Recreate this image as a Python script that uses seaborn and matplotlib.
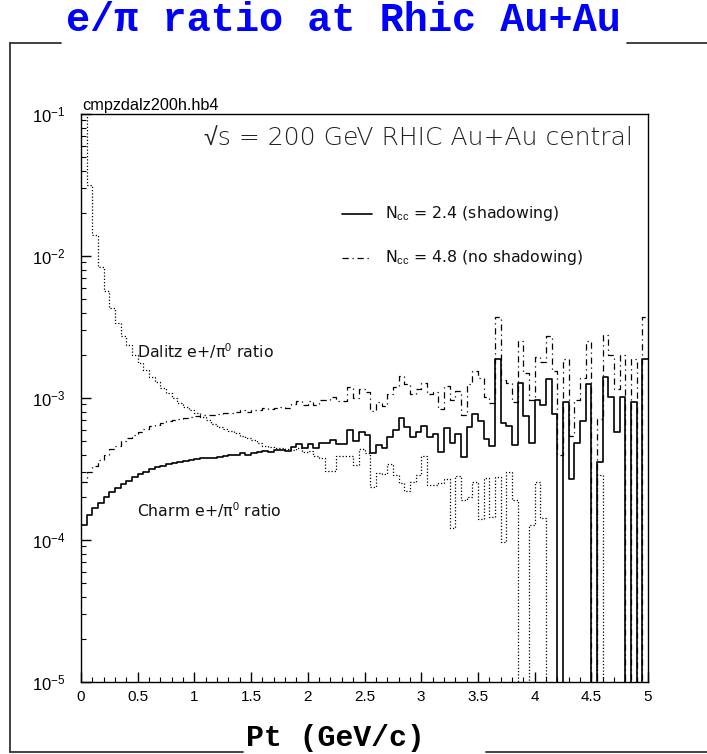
import numpy as np
import pandas as pd
import matplotlib
matplotlib.use("Agg")
import matplotlib.pyplot as plt
import seaborn as sns
from matplotlib.lines import Line2D
from matplotlib.ticker import MultipleLocator, LogLocator, NullFormatter, FuncFormatter


# ================== DATA ==================

# 100 bins of 0.05 GeV/c between 0 and 5
N_BINS = 100
PT_RANGE = (0.0, 5.0)

# Charm e+/pi0 ratio, Ncc = 2.4 (shadowing)
charm_shadowing = [
    1.28e-4, 1.50e-4, 1.67e-4, 1.83e-4, 2.00e-4, 2.17e-4, 2.31e-4, 2.47e-4, 2.62e-4, 2.76e-4,
    2.90e-4, 3.03e-4, 3.15e-4, 3.25e-4, 3.34e-4, 3.43e-4, 3.50e-4, 3.56e-4, 3.61e-4, 3.68e-4,
    3.72e-4, 3.78e-4, 3.78e-4, 3.81e-4, 3.84e-4, 3.91e-4, 3.94e-4, 3.97e-4, 4.10e-4, 3.97e-4,
    4.10e-4, 4.14e-4, 4.24e-4, 4.17e-4, 4.27e-4, 4.30e-4, 4.24e-4, 4.52e-4, 4.74e-4, 4.45e-4,
    4.74e-4, 4.45e-4, 4.82e-4, 4.82e-4, 5.06e-4, 4.74e-4, 4.73e-4, 5.95e-4, 4.98e-4, 5.73e-4,
    5.49e-4, 4.08e-4, 4.67e-4, 4.42e-4, 5.34e-4, 5.95e-4, 7.19e-4, 6.28e-4, 5.34e-4, 5.79e-4,
    6.38e-4, 5.34e-4, 5.55e-4, 4.15e-4, 6.12e-4, 4.84e-4, 5.58e-4, 3.82e-4, 6.28e-4, 7.68e-4,
    6.92e-4, 5.12e-4, 4.59e-4, 1.87e-3, 6.64e-4, 6.38e-4, 4.67e-4, 1.27e-3, 7.50e-4, 4.82e-4,
    9.68e-4, 8.93e-4, 1.36e-3, 7.68e-4, 0.0, 9.33e-4, 2.68e-4, 4.84e-4, 6.89e-4, 1.25e-3,
    0.0, 3.56e-4, 1.40e-3, 1.01e-3, 5.73e-4, 1.01e-3, 0.0, 9.33e-4, 0.0, 1.87e-3,
]

# Charm e+/pi0 ratio, Ncc = 4.8 (no shadowing)
charm_no_shadowing = [
    2.56e-4, 3.00e-4, 3.34e-4, 3.66e-4, 4.00e-4, 4.34e-4, 4.62e-4, 4.94e-4, 5.24e-4, 5.52e-4,
    5.80e-4, 6.06e-4, 6.30e-4, 6.50e-4, 6.68e-4, 6.86e-4, 7.00e-4, 7.12e-4, 7.22e-4, 7.36e-4,
    7.44e-4, 7.56e-4, 7.56e-4, 7.62e-4, 7.68e-4, 7.82e-4, 7.88e-4, 7.94e-4, 8.20e-4, 7.94e-4,
    8.20e-4, 8.28e-4, 8.48e-4, 8.34e-4, 8.54e-4, 8.60e-4, 8.48e-4, 9.04e-4, 9.48e-4, 8.90e-4,
    9.48e-4, 8.90e-4, 9.64e-4, 9.64e-4, 1.01e-3, 9.48e-4, 9.46e-4, 1.19e-3, 9.96e-4, 1.15e-3,
    1.10e-3, 8.16e-4, 9.34e-4, 8.84e-4, 1.07e-3, 1.19e-3, 1.44e-3, 1.26e-3, 1.07e-3, 1.16e-3,
    1.28e-3, 1.07e-3, 1.11e-3, 8.30e-4, 1.22e-3, 9.68e-4, 1.12e-3, 7.64e-4, 1.26e-3, 1.54e-3,
    1.38e-3, 1.02e-3, 9.18e-4, 3.74e-3, 1.33e-3, 1.28e-3, 9.34e-4, 2.54e-3, 1.50e-3, 9.64e-4,
    1.94e-3, 1.79e-3, 2.72e-3, 1.54e-3, 3.97e-4, 1.87e-3, 5.36e-4, 9.68e-4, 1.38e-3, 2.50e-3,
    0.0, 7.12e-4, 2.80e-3, 2.02e-3, 1.15e-3, 2.02e-3, 0.0, 1.87e-3, 0.0, 3.74e-3,
]

# Dalitz e+/pi0 ratio
dalitz_ratio = [
    1.20e-1, 3.16e-2, 1.41e-2, 8.37e-3, 5.67e-3, 4.28e-3, 3.38e-3, 2.73e-3, 2.36e-3, 2.01e-3,
    1.76e-3, 1.57e-3, 1.41e-3, 1.30e-3, 1.18e-3, 1.08e-3, 1.00e-3, 9.29e-4, 8.69e-4, 8.17e-4,
    7.78e-4, 7.38e-4, 7.00e-4, 6.61e-4, 6.28e-4, 6.05e-4, 5.81e-4, 5.64e-4, 5.44e-4, 5.23e-4,
    5.06e-4, 4.82e-4, 4.59e-4, 4.52e-4, 4.45e-4, 4.41e-4, 4.37e-4, 4.30e-4, 4.45e-4, 4.17e-4,
    4.24e-4, 3.91e-4, 3.78e-4, 3.06e-4, 3.06e-4, 3.91e-4, 3.88e-4, 3.91e-4, 3.37e-4, 4.35e-4,
    4.08e-4, 2.37e-4, 2.98e-4, 2.92e-4, 3.43e-4, 2.87e-4, 2.51e-4, 2.22e-4, 2.58e-4, 2.87e-4,
    3.88e-4, 2.44e-4, 2.44e-4, 2.51e-4, 2.69e-4, 1.21e-4, 2.82e-4, 1.91e-4, 2.02e-4, 2.55e-4,
    1.40e-4, 2.72e-4, 1.45e-4, 2.76e-4, 9.70e-5, 3.03e-4, 1.90e-4, 0.0, 0.0, 1.28e-4,
    2.58e-4, 1.42e-4, 0.0, 0.0, 0.0, 0.0, 0.0, 0.0, 0.0, 0.0,
    0.0, 2.87e-4, 0.0, 0.0, 0.0, 0.0, 0.0, 0.0, 0.0, 0.0,
]

TITLE = "e/π ratio at Rhic Au+Au"
XLABEL = "Pt (GeV/c)"
HBOOK = "cmpzdalz200h.hb4"
HEADER = "√s = 200 GeV RHIC Au+Au central"
LEG_SH = r"N$_{\mathrm{cc}}$ = 2.4 (shadowing)"
LEG_NOSH = r"N$_{\mathrm{cc}}$ = 4.8 (no shadowing)"
LBL_DALITZ = r"Dalitz e+/π$^{\mathrm{0}}$ ratio"
LBL_CHARM = r"Charm e+/π$^{\mathrm{0}}$ ratio"


# ================== STYLE ==================

sns.set_theme(style="ticks")
plt.rcParams["font.family"] = ["Liberation Sans", "DejaVu Sans"]
plt.rcParams["mathtext.fontset"] = "custom"
plt.rcParams["mathtext.rm"] = "Liberation Sans"
plt.rcParams["mathtext.it"] = "Liberation Sans:italic"
plt.rcParams["axes.edgecolor"] = "black"

ROOT_FONT = ["DejaVu Sans", "Liberation Sans"]
MONO_FONT = ["Liberation Mono", "DejaVu Sans Mono"]

W, H = 707, 754
fig = plt.figure(figsize=(W / 100, H / 100), dpi=100)
fig.patch.set_facecolor("white")


def fx(px):
    return px / W


def fy(py):
    return 1 - py / H


ax = fig.add_axes([fx(81), fy(682), (648 - 81) / W, (682 - 114) / H])
ax.set_facecolor("white")

# ================== HISTOGRAMS ==================

bin_w = (PT_RANGE[1] - PT_RANGE[0]) / N_BINS
centers = PT_RANGE[0] + bin_w * (np.arange(N_BINS) + 0.5)
df = pd.DataFrame({
    "pt": centers,
    "shadowing": charm_shadowing,
    "no_shadowing": charm_no_shadowing,
    "dalitz": dalitz_ratio,
})

hist_kw = dict(x="pt", bins=N_BINS, binrange=PT_RANGE, element="step", fill=False,
               color="black", ax=ax)
sns.histplot(data=df, weights="dalitz", linestyle=(0, (1, 1.6)), linewidth=0.9, **hist_kw)
sns.histplot(data=df, weights="no_shadowing", linestyle=(0, (5, 3, 1, 3)), linewidth=0.9,
             **hist_kw)
sns.histplot(data=df, weights="shadowing", linestyle="-", linewidth=1.2, **hist_kw)

ax.set_yscale("log")
ax.set_xlim(0, 5)
ax.set_ylim(1e-5, 1e-1)
ax.set_xlabel("")
ax.set_ylabel("")

# ================== AXES ==================

ax.xaxis.set_major_locator(MultipleLocator(0.5))
ax.xaxis.set_minor_locator(MultipleLocator(0.1))
ax.xaxis.set_major_formatter(FuncFormatter(lambda v, p: f"{v:g}"))
ax.yaxis.set_major_locator(LogLocator(base=10, numticks=10))
ax.yaxis.set_minor_locator(LogLocator(base=10, subs=np.arange(2, 10), numticks=20))
ax.yaxis.set_minor_formatter(NullFormatter())

ax.tick_params(which="both", direction="in", top=False, right=False,
               colors="black", labelsize=11)
ax.tick_params(axis="y", which="major", labelsize=12)
ax.tick_params(which="major", length=7.5, width=1.0)
ax.tick_params(which="minor", length=3.5, width=0.8)
ax.tick_params(axis="x", pad=6)
ax.tick_params(axis="y", pad=11)
for sp in ax.spines.values():
    sp.set_visible(True)
    sp.set_linewidth(1.0)
    sp.set_color("black")

# ================== TEXTS ==================

fig.text(fx(82), fy(110), HBOOK, ha="left", va="baseline", fontsize=11.7, color="black")

ax.text(0.9735, 0.9577, HEADER, transform=ax.transAxes, ha="right", va="center",
        fontsize=18, family=ROOT_FONT, fontweight="light", color="#222222")

ax.text(0.0988, 0.5827, LBL_DALITZ, transform=ax.transAxes,
        ha="left", va="center", fontsize=11.3, family=ROOT_FONT, color="#111111")
ax.text(0.0988, 0.3028, LBL_CHARM, transform=ax.transAxes,
        ha="left", va="center", fontsize=11.3, family=ROOT_FONT, color="#111111")

# legend
ax.add_line(Line2D([0.460, 0.513], [0.824, 0.824], transform=ax.transAxes,
                   color="black", linewidth=1.2))
ax.text(0.536, 0.824, LEG_SH, transform=ax.transAxes, ha="left", va="center",
        fontsize=11.3, family=ROOT_FONT, color="#111111")
ax.add_line(Line2D([0.460, 0.513], [0.7465, 0.7465], transform=ax.transAxes,
                   color="black", linewidth=0.9, linestyle=(0, (5, 3, 1, 3))))
ax.text(0.536, 0.7465, LEG_NOSH, transform=ax.transAxes, ha="left", va="center",
        fontsize=11.3, family=ROOT_FONT, color="#111111")

# page title and axis title
fig.text(fx(343), fy(20), TITLE, ha="center", va="center", fontsize=29,
         family=MONO_FONT, fontweight="bold", color="#0000ff")
fig.text(fx(246), fy(738), XLABEL, ha="left", va="center", fontsize=21.5,
         family=MONO_FONT, fontweight="bold", color="black")

# outer page frame, broken by the titles
frame = [
    ([10, 10], [43, 752]),
    ([10, 61], [43, 43]),
    ([627, 707], [43, 43]),
    ([10, 243], [752, 752]),
    ([486, 707], [752, 752]),
]
for xs, ys in frame:
    fig.add_artist(Line2D([fx(x) for x in xs], [fy(y) for y in ys],
                          color="#333333", linewidth=1.3))

fig.savefig("out.png", dpi=100, facecolor="white")
